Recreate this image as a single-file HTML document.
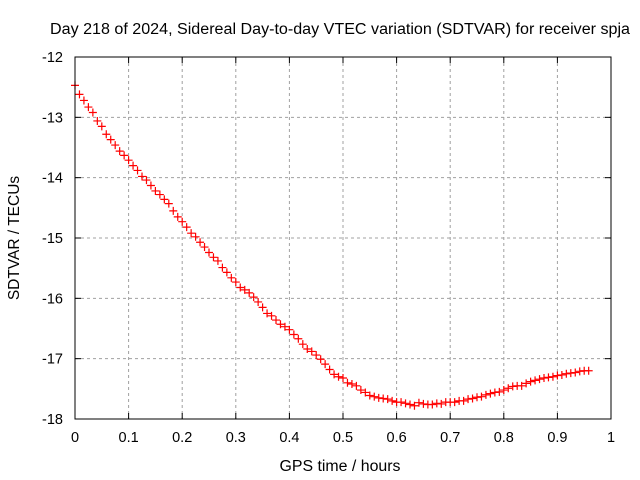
<!DOCTYPE html>
<html><head><meta charset="utf-8"><style>
body{margin:0;background:#fff}
svg{display:block;font-family:"Liberation Sans",sans-serif}
</style></head><body>
<svg id="chart" width="640" height="480" viewBox="0 0 640 480">
<rect width="640" height="480" fill="#fff"/>
<text x="340" y="34" font-size="15.5" text-anchor="middle" textLength="580" lengthAdjust="spacingAndGlyphs">Day 218 of 2024, Sidereal Day-to-day VTEC variation (SDTVAR) for receiver spja</text>
<text x="340" y="471" font-size="15.5" text-anchor="middle" textLength="121" lengthAdjust="spacingAndGlyphs">GPS time / hours</text>
<text x="0" y="0" font-size="15.5" text-anchor="middle" transform="translate(19,238) rotate(-90)">SDTVAR / TECUs</text>
<g id="grid"></g><g id="ticks"></g><g id="marks"></g>
<rect x="75" y="57" width="536" height="362" fill="none" stroke="#000" stroke-width="1"/>
</svg>
<script>
const xTicks=[0,0.1,0.2,0.3,0.4,0.5,0.6,0.7,0.8,0.9,1];
const xTickLabels=["0","0.1","0.2","0.3","0.4","0.5","0.6","0.7","0.8","0.9","1"];
const yTicks=[-12,-13,-14,-15,-16,-17,-18];
const yTickLabels=["-12","-13","-14","-15","-16","-17","-18"];
const sampleStep=1/120;
const sdtvar=[-12.47,-12.62,-12.72,-12.83,-12.92,-13.06,-13.15,-13.28,-13.37,-13.46,-13.56,-13.63,-13.71,
-13.80,-13.88,-13.98,-14.04,-14.13,-14.22,-14.28,-14.36,-14.43,-14.55,-14.65,-14.73,
-14.82,-14.92,-14.98,-15.07,-15.15,-15.24,-15.32,-15.38,-15.49,-15.57,-15.66,-15.73,
-15.82,-15.86,-15.91,-15.98,-16.06,-16.15,-16.25,-16.29,-16.36,-16.43,-16.47,-16.52,
-16.60,-16.67,-16.76,-16.84,-16.88,-16.94,-17.01,-17.09,-17.18,-17.26,-17.30,-17.32,
-17.40,-17.42,-17.45,-17.52,-17.56,-17.61,-17.63,-17.65,-17.66,-17.67,-17.70,-17.72,
-17.72,-17.74,-17.76,-17.78,-17.73,-17.75,-17.76,-17.76,-17.74,-17.75,-17.72,-17.72,
-17.72,-17.70,-17.70,-17.67,-17.66,-17.64,-17.63,-17.60,-17.58,-17.56,-17.55,-17.52,
-17.49,-17.46,-17.45,-17.45,-17.41,-17.38,-17.36,-17.34,-17.32,-17.31,-17.30,-17.28,
-17.27,-17.25,-17.24,-17.23,-17.21,-17.20,-17.20];
const L=75,R=611,T=57,B=419;
const xs=v=>L+(v-0)/(1-0)*(R-L);
const ys=v=>T+(-12-v)/(6)*(B-T);
const NS="http://www.w3.org/2000/svg";
function mk(tag,attrs,parent){const e=document.createElementNS(NS,tag);for(const k in attrs)e.setAttribute(k,attrs[k]);parent.appendChild(e);return e;}
const grid=document.getElementById('grid'),ticks=document.getElementById('ticks'),marks=document.getElementById('marks');
xTicks.forEach((t,i)=>{const x=xs(t);
 if(i>0&&i<xTicks.length-1){const g=mk('line',{x1:x,x2:x,y1:T,y2:B,stroke:'#a0a0a0','stroke-dasharray':'3,3'},grid);
 
 }
 mk('line',{x1:x,x2:x,y1:B,y2:B-6,stroke:'#000'},ticks);
 mk('line',{x1:x,x2:x,y1:T,y2:T+6,stroke:'#000'},ticks);
 const tx=mk('text',{x:x,y:B+23,'font-size':14.5,'text-anchor':'middle'},ticks);tx.textContent=xTickLabels[i];
 
 
});
yTicks.forEach((t,i)=>{const y=ys(t);
 if(i>0&&i<yTicks.length-1){const g=mk('line',{x1:L,x2:R,y1:y,y2:y,stroke:'#a0a0a0','stroke-dasharray':'3,3'},grid);
 
 }
 mk('line',{x1:L,x2:L+6,y1:y,y2:y,stroke:'#000'},ticks);
 mk('line',{x1:R,x2:R-6,y1:y,y2:y,stroke:'#000'},ticks);
 const tx=mk('text',{x:63,y:y+5,'font-size':14.5,'text-anchor':'end'},ticks);tx.textContent=yTickLabels[i];
 
 
});
sdtvar.forEach((v,i)=>{const x=xs(i*sampleStep),y=ys(v);
 const p=mk('path',{d:`M${x-4},${y}H${x+4}M${x},${y-4}V${y+4}`,stroke:'#f00','stroke-width':1.2,fill:'none'},marks);
 
 
});
</script>
</body></html>
